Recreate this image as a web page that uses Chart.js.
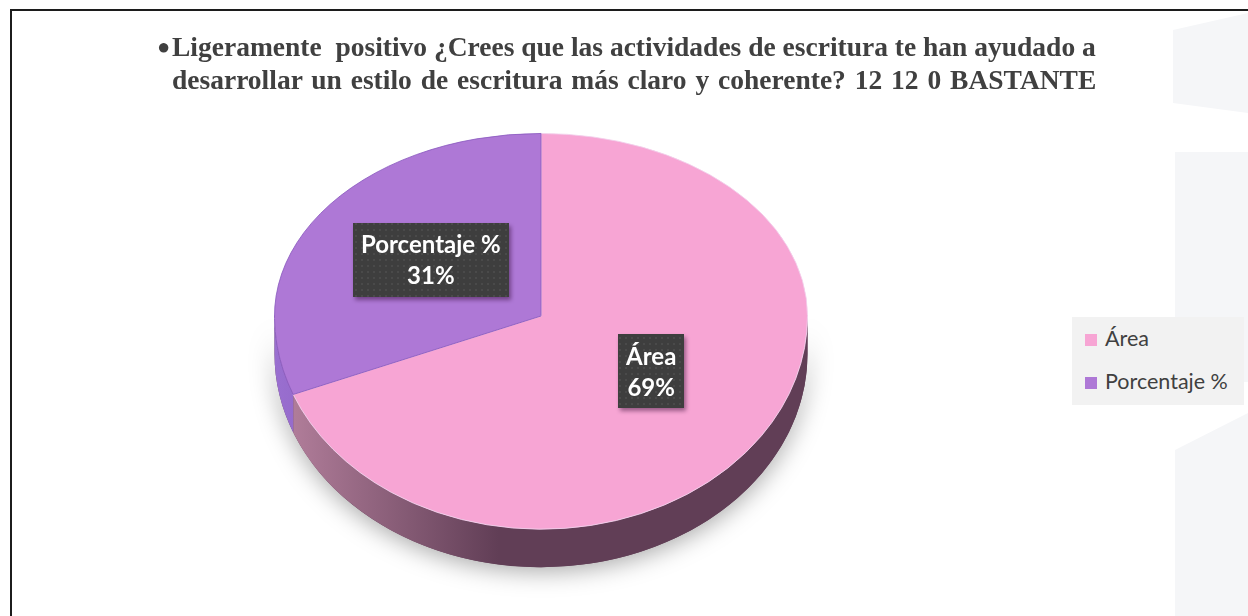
<!DOCTYPE html>
<html>

<head>
    <meta charset="utf-8">
    <title>Ligeramente positivo</title>
    <script src="https://cdn.jsdelivr.net/npm/chart.js"></script>
    <style>
        body {
            margin: 0;
            background: #fff;
        }

        #wrap {
            position: relative;
            width: 1248px;
            height: 616px;
            overflow: hidden;
            background: #fff;
        }

        .frame {
            position: absolute;
            left: 10px;
            top: 9px;
            width: 1400px;
            height: 800px;
            border-top: 2px solid #1c1c1c;
            border-left: 2px solid #1c1c1c;
        }

        .deco {
            position: absolute;
            background: #f5f6f8;
        }

        #title {
            position: absolute;
            left: 172px;
            top: 30px;
            font-family: "Liberation Serif", serif;
            font-weight: bold;
            font-size: 27.5px;
            line-height: 33px;
            color: #404040;
            white-space: pre;
        }

        #title .bullet {
            position: absolute;
            left: -15px;
            top: 0;
            font-size: 22px;
        }

        #title .second {
            word-spacing: 2px;
        }

        #chart-box {
            position: absolute;
            left: 0;
            top: 0;
            width: 1248px;
            height: 616px;
        }

        #legend {
            position: absolute;
            left: 1072px;
            top: 317px;
            width: 172px;
            height: 88px;
            background: #f2f2f2;
            font-family: Lato, sans-serif;
            font-size: 21.5px;
            color: #404040;
        }

        #legend .item {
            position: absolute;
            left: 13px;
            height: 24px;
            line-height: 24px;
            white-space: nowrap;
        }

        #legend .swatch {
            display: inline-block;
            width: 12px;
            height: 12px;
            margin-right: 8px;
            vertical-align: 0px;
        }
    </style>
</head>

<body>
    <div id="wrap">
        <div class="deco" style="left:1173px;top:13px;width:75px;height:100px;clip-path:polygon(0 17px,100% 0,100% 100%,0 90px);"></div>
        <div class="deco" style="left:1175px;top:152px;width:73px;height:230px;"></div>
        <div class="deco" style="left:1175px;top:413px;width:73px;height:203px;clip-path:polygon(0 37px,100% 0,100% 100%,0 100%);"></div>
        <div class="frame"></div>
        <div id="chart-box"><canvas id="pie-chart" width="1248" height="616"></canvas></div>
        <div id="title"><span class="bullet">●</span>Ligeramente  positivo ¿Crees que las actividades de escritura te han ayudado a
<span class="second">desarrollar un estilo de escritura más claro y coherente? 12 12 0 BASTANTE</span></div>
        <div id="legend"></div>
    </div>

    <script>
        const labels = ['Área', 'Porcentaje %'];
        const values = [69, 31];
        const colors = ['#f7a5d4', '#ae78d6'];
        const sideLight = ['#b7829f', '#9a6fd0'];
        const sideDark = ['#613e56', '#6b47a0'];

        // tilt of the upper and lower half of the top face, and thickness of the pie
        const TILT_TOP = 0.685;
        const TILT_BOTTOM = 0.80;
        const DEPTH = 38;

        const legendEl = document.getElementById('legend');
        labels.forEach((lab, i) => {
            const item = document.createElement('div');
            item.className = 'item';
            item.style.top = (9 + i * 43) + 'px';
            item.innerHTML = '<span class="swatch" style="background:' + colors[i] + '"></span>' + lab;
            legendEl.appendChild(item);
        });

        function dotPattern(ctx) {
            const c = document.createElement('canvas');
            c.width = 6;
            c.height = 6;
            const p = c.getContext('2d');
            p.fillStyle = '#3e3e3e';
            p.fillRect(0, 0, 6, 6);
            p.fillStyle = '#4a4a4a';
            p.fillRect(1, 1, 2, 2);
            return ctx.createPattern(c, 'repeat');
        }

        const pie3d = {
            id: 'pie3d',
            beforeDatasetsDraw(chart) {
                const ctx = chart.ctx;
                const arcs = chart.getDatasetMeta(0).data;
                const cx = arcs[0].x, cy = arcs[0].y, r = arcs[0].outerRadius;
                const rb = r * TILT_BOTTOM;

                // soft shadow under the body
                ctx.save();
                ctx.shadowColor = 'rgba(0,0,0,0.35)';
                ctx.shadowBlur = 24;
                ctx.shadowOffsetY = 4;
                ctx.fillStyle = '#613e56';
                ctx.beginPath();
                ctx.ellipse(cx, cy, r, rb, 0, 0, Math.PI);
                ctx.ellipse(cx, cy + DEPTH, r, rb, 0, Math.PI, 0, true);
                ctx.closePath();
                ctx.fill();
                ctx.restore();

                // side wall of each slice (front half only)
                arcs.forEach((arc, i) => {
                    [-2 * Math.PI, 0, 2 * Math.PI].forEach(off => {
                        const a0 = Math.max(arc.startAngle + off, 0);
                        const a1 = Math.min(arc.endAngle + off, Math.PI);
                        if (a1 <= a0) return;
                        const g = ctx.createLinearGradient(cx - r, 0, cx + r, 0);
                        g.addColorStop(0, sideLight[i]);
                        g.addColorStop(0.42, sideDark[i]);
                        g.addColorStop(1, sideDark[i]);
                        ctx.save();
                        ctx.fillStyle = g;
                        ctx.beginPath();
                        ctx.ellipse(cx, cy, r, rb, 0, a0, a1);
                        ctx.ellipse(cx, cy + DEPTH, r, rb, 0, a1, a0, true);
                        ctx.closePath();
                        ctx.fill();
                        ctx.restore();
                    });
                });

                // top face, upper and lower halves squashed separately
                [[TILT_TOP, 0, cy + 0.5], [TILT_BOTTOM, cy - 0.5, chart.height]].forEach(([k, y0, y1]) => {
                    ctx.save();
                    ctx.beginPath();
                    ctx.rect(0, y0, chart.width, y1 - y0);
                    ctx.clip();
                    ctx.translate(cx, cy);
                    ctx.scale(1, k);
                    ctx.translate(-cx, -cy);
                    arcs.forEach(a => a.draw(ctx));
                    ctx.restore();
                });
                return false;
            },
            afterDraw(chart) {
                const ctx = chart.ctx;
                const arcs = chart.getDatasetMeta(0).data;
                const total = values.reduce((s, v) => s + v, 0);
                const pattern = dotPattern(ctx);
                arcs.forEach((arc, i) => {
                    const mid = (arc.startAngle + arc.endAngle) / 2;
                    const rr = (arc.innerRadius + arc.outerRadius) / 2;
                    const k = Math.sin(mid) < 0 ? TILT_TOP : TILT_BOTTOM;
                    const x = arc.x + Math.cos(mid) * rr;
                    const y = arc.y + Math.sin(mid) * rr * k - 5;
                    const lines = [labels[i], Math.round(values[i] / total * 100) + '%'];
                    ctx.save();
                    ctx.font = 'bold 24px Lato';
                    const w = Math.max(...lines.map(t => ctx.measureText(t).width)) + 16;
                    const h = 74;
                    ctx.shadowColor = 'rgba(40,0,40,0.45)';
                    ctx.shadowBlur = 4;
                    ctx.shadowOffsetX = 2;
                    ctx.shadowOffsetY = 3;
                    ctx.fillStyle = pattern;
                    ctx.fillRect(Math.round(x - w / 2), Math.round(y - h / 2), Math.round(w), h);
                    ctx.restore();
                    ctx.save();
                    ctx.font = 'bold 24px Lato';
                    ctx.fillStyle = '#ffffff';
                    ctx.textAlign = 'center';
                    ctx.textBaseline = 'middle';
                    ctx.fillText(lines[0], x, y - 14);
                    ctx.fillText(lines[1], x, y + 17);
                    ctx.restore();
                });
            }
        };

        new Chart(document.getElementById('pie-chart'), {
            type: 'pie',
            data: {
                labels: labels,
                datasets: [{
                    data: values,
                    backgroundColor: colors,
                    borderColor: ['#f2d0ec', '#8c5cc0'],
                    borderWidth: 1,
                    hoverOffset: 0
                }]
            },
            options: {
                responsive: false,
                animation: false,
                events: [],
                layout: {
                    padding: { top: 49, bottom: 33, left: 200, right: 366 }
                },
                plugins: {
                    legend: { display: false },
                    tooltip: { enabled: false },
                    title: { display: false }
                }
            },
            plugins: [pie3d]
        });
    </script>
</body>

</html>
